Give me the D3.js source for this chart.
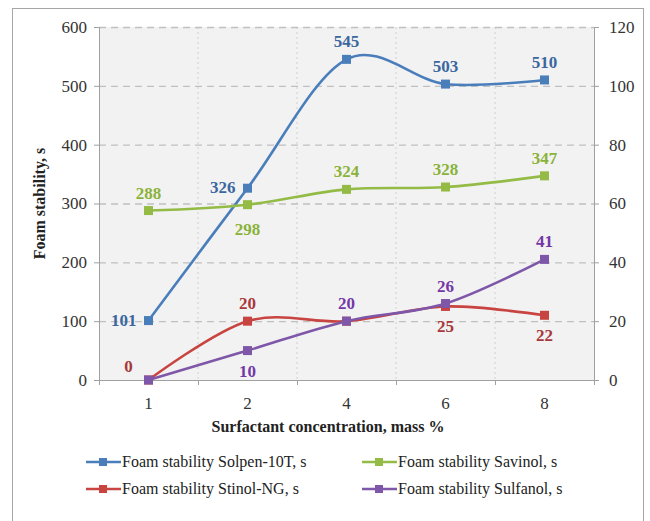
<!DOCTYPE html>
<html>
<head>
<meta charset="utf-8">
<script src="https://cdn.jsdelivr.net/npm/d3@7"></script>
<style>
  body { margin: 0; background: #fff; }
  svg text { font-family: "Liberation Serif", "Times New Roman", serif; }
</style>
</head>
<body>
<script>
"use strict";
(function(){
    // chart values
    const concentrations = ["1", "2", "4", "6", "8"]
    const solpen = [101, 326, 545, 503, 510]     // left axis
    const savinol = [288, 298, 324, 328, 347]    // left axis
    const stinol = [0, 20, 20, 25, 22]           // right axis
    const sulfanol = [0, 10, 20, 26, 41]         // right axis
    const leftTicks = [0, 100, 200, 300, 400, 500, 600]
    const rightTicks = [0, 20, 40, 60, 80, 100, 120]

    const series = [
        { name: "Foam stability Solpen-10T, s", values: solpen, axis: "left", color: "#4a7ebb", label: "#3b679f",
          pos: ["left", "left", "above", "above", "above"] },
        { name: "Foam stability Savinol, s", values: savinol, axis: "left", color: "#93bb45", label: "#8ab23a",
          pos: ["above", "below2", "above", "above", "above"] },
        { name: "Foam stability Stinol-NG, s", values: stinol, axis: "right", color: "#c84440", label: "#a8383a",
          pos: ["aboveleft", "above", null, "below", "below"] },
        { name: "Foam stability Sulfanol, s", values: sulfanol, axis: "right", color: "#7e57a8", label: "#7438a6",
          pos: [null, "below", "above", "above", "above"] }
    ]

    const W = 650, H = 521
    const plot = { left: 99, right: 594, top: 27, bottom: 380 }

    let svg = d3.select("body").append("svg")
        .attr("width", W)
        .attr("height", H)

    // outer frame
    svg.append("rect")
        .attr("x", 12.5).attr("y", 8.5)
        .attr("width", 631).attr("height", 530)
        .attr("fill", "#fff")
        .attr("stroke", "#a6a6a6")

    let scaleX = d3.scaleBand()
        .domain(concentrations)
        .range([plot.left, plot.right])
    let scaleY = d3.scaleLinear().domain([0, 600]).range([plot.bottom, plot.top])
    let scaleY2 = d3.scaleLinear().domain([0, 120]).range([plot.bottom, plot.top])

    // plot background
    svg.append("rect")
        .attr("x", plot.left).attr("y", plot.top)
        .attr("width", plot.right - plot.left).attr("height", plot.bottom - plot.top)
        .attr("fill", "#f2f2f2")

    // vertical dotted gridlines at band edges
    const edges = concentrations.slice(1).map(c => scaleX(c))
    svg.append("g").selectAll("line")
        .data(edges)
        .enter().append("line")
        .attr("x1", d => d).attr("x2", d => d)
        .attr("y1", plot.top).attr("y2", plot.bottom)
        .attr("stroke", "#d0d0d0")
        .attr("stroke-dasharray", "2,3")

    // horizontal dashed gridlines
    svg.append("g").selectAll("line")
        .data(leftTicks.slice(1))
        .enter().append("line")
        .attr("x1", plot.left).attr("x2", plot.right)
        .attr("y1", d => scaleY(d) + 0.5).attr("y2", d => scaleY(d) + 0.5)
        .attr("stroke", "#c0c0c0")
        .attr("stroke-width", 1.3)
        .attr("stroke-dasharray", "7,5")

    // axes
    let yAxis = d3.axisLeft(scaleY).tickValues(leftTicks).tickSize(5).tickPadding(7)
    let yAxis2 = d3.axisRight(scaleY2).tickValues(rightTicks).tickSize(5).tickPadding(10)

    function styleAxis(g) {
        g.attr("font-family", null).attr("font-size", null)
        g.select(".domain").attr("stroke", "#a0a0a0")
        g.selectAll(".tick line").attr("stroke", "#a0a0a0")
        g.selectAll(".tick text")
            .attr("fill", "#333")
            .style("font-size", "17px")
    }

    svg.append("g")
        .attr("transform", `translate(${plot.left}, 0)`)
        .call(yAxis)
        .call(styleAxis)

    svg.append("g")
        .attr("transform", `translate(${plot.right}, 0)`)
        .call(yAxis2)
        .call(styleAxis)

    // x axis: line + ticks at band edges, labels at centers
    let xg = svg.append("g")
    xg.append("line")
        .attr("x1", plot.left).attr("x2", plot.right)
        .attr("y1", plot.bottom + 0.5).attr("y2", plot.bottom + 0.5)
        .attr("stroke", "#a0a0a0")
    xg.selectAll(".xtick")
        .data([plot.left].concat(edges, [plot.right]))
        .enter().append("line")
        .attr("x1", d => d + 0.5).attr("x2", d => d + 0.5)
        .attr("y1", plot.bottom).attr("y2", plot.bottom + 5)
        .attr("stroke", "#a0a0a0")
    xg.selectAll(".xlabel")
        .data(concentrations)
        .enter().append("text")
        .attr("x", d => scaleX(d) + scaleX.bandwidth() / 2)
        .attr("y", 409)
        .attr("text-anchor", "middle")
        .attr("fill", "#333")
        .style("font-size", "17px")
        .text(d => d)

    // axis titles
    svg.append("text")
        .attr("x", 328)
        .attr("y", 432)
        .attr("text-anchor", "middle")
        .attr("font-weight", "bold")
        .attr("fill", "#222")
        .style("font-size", "16px")
        .text("Surfactant concentration, mass %")

    svg.append("text")
        .attr("transform", `translate(45, ${(plot.top + plot.bottom) / 2}) rotate(-90)`)
        .attr("text-anchor", "middle")
        .attr("font-weight", "bold")
        .attr("fill", "#222")
        .style("font-size", "16px")
        .text("Foam stability, s")

    // lines and markers
    const cx = c => scaleX(c) + scaleX.bandwidth() / 2
    series.forEach(s => {
        const sy = s.axis === "left" ? scaleY : scaleY2
        const pts = s.values.map((v, i) => [cx(concentrations[i]), sy(v)])
        s.pts = pts
        svg.append("path")
            .datum(pts)
            .attr("d", d3.line().curve(d3.curveCardinal.tension(0)))
            .attr("fill", "none")
            .attr("stroke", s.color)
            .attr("stroke-width", 2.6)
    })
    series.forEach(s => {
        svg.append("g").selectAll("rect")
            .data(s.pts)
            .enter().append("rect")
            .attr("x", d => d[0] - 4.5).attr("y", d => d[1] - 4.5)
            .attr("width", 9).attr("height", 9)
            .attr("fill", s.color)
    })

    // data labels
    series.forEach(s => {
        s.values.forEach((v, i) => {
            const p = s.pos[i]
            if (!p) return
            let x = s.pts[i][0], y = s.pts[i][1], anchor = "middle"
            if (p === "above") { y -= 12 }
            else if (p === "below") { y += 26 }
            else if (p === "below2") { y += 30 }
            else if (p === "left") { x -= 12; y += 5; anchor = "end" }
            else if (p === "aboveleft") { x -= 20; y -= 8 }
            svg.append("text")
                .attr("x", x).attr("y", y)
                .attr("text-anchor", anchor)
                .attr("font-weight", "bold")
                .attr("fill", s.label)
                .style("font-size", "17px")
                .text(v)
        })
    })

    // legend
    const legendPos = [[86, 462], [362, 462], [86, 489], [362, 489]]
    series.forEach((s, i) => {
        const [lx, ly] = legendPos[i]
        let g = svg.append("g").attr("transform", `translate(${lx}, ${ly})`)
        g.append("line")
            .attr("x1", 0).attr("x2", 35)
            .attr("y1", 0).attr("y2", 0)
            .attr("stroke", s.color)
            .attr("stroke-width", 2.6)
        g.append("rect")
            .attr("x", 13).attr("y", -4)
            .attr("width", 8).attr("height", 8)
            .attr("fill", s.color)
        g.append("text")
            .attr("x", 36).attr("y", 5)
            .attr("fill", "#222")
            .style("font-size", "16px")
            .text(s.name)
    })
})()
</script>
</body>
</html>
